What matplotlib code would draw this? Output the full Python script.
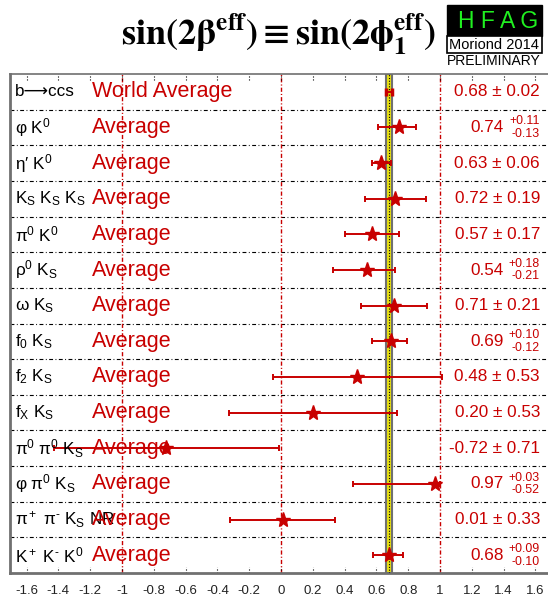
import matplotlib
matplotlib.use('Agg')
import matplotlib.pyplot as plt
import matplotlib.transforms as mtransforms
from matplotlib.patches import Rectangle

plt.rcParams['font.family'] = ['Liberation Sans', 'DejaVu Sans']
plt.rcParams['mathtext.fontset'] = 'custom'
plt.rcParams['mathtext.rm'] = 'Liberation Sans'
plt.rcParams['mathtext.it'] = 'Liberation Sans:italic'
plt.rcParams['mathtext.bf'] = 'Liberation Sans:bold'
plt.rcParams['mathtext.fallback'] = 'stix'

########## Data
modes = ['b\u27f6ccs', 'φ K$^0$', 'η\u2032 K$^0$', r'K$_\mathrm{S}$ K$_\mathrm{S}$ K$_\mathrm{S}$',
         'π$^0$ K$^0$', r'ρ$^0$ K$_\mathrm{S}$', r'ω K$_\mathrm{S}$', r'f$_0$ K$_\mathrm{S}$',
         r'f$_2$ K$_\mathrm{S}$', r'f$_\mathrm{X}$ K$_\mathrm{S}$', r'π$^0$ π$^0$ K$_\mathrm{S}$',
         r'φ π$^0$ K$_\mathrm{S}$', r'π$^+$ π$^{\text{-}}$ K$_\mathrm{S}$ NR', r'K$^+$ K$^{\text{-}}$ K$^0$']
tags = ['World Average'] + ['Average'] * 13
values = [0.68, 0.74, 0.63, 0.72, 0.57, 0.54, 0.71, 0.69, 0.48, 0.20, -0.72, 0.97, 0.01, 0.68]
err_hi = [0.02, 0.11, 0.06, 0.19, 0.17, 0.18, 0.21, 0.10, 0.53, 0.53, 0.71, 0.03, 0.33, 0.09]
err_lo = [0.02, 0.13, 0.06, 0.19, 0.17, 0.21, 0.21, 0.12, 0.53, 0.53, 0.71, 0.52, 0.33, 0.10]
xticks = [-1.6, -1.4, -1.2, -1, -0.8, -0.6, -0.4, -0.2, 0, 0.2, 0.4, 0.6, 0.8, 1, 1.2, 1.4, 1.6]

red = '#c80000'
W, H = 548, 602

def fx(px):
    return px / W

def fy(py):
    return 1 - py / H

fig = plt.figure(figsize=(W / 100, H / 100), dpi=100)
ax = fig.add_axes([fx(10), fy(573), fx(548) - fx(10), fy(74) - fy(573)])
rows = list(range(len(modes)))
ax.set_xlim(-1.704, 1.679)
ax.set_ylim(len(modes) - 0.5, -0.5)

##### separators, reference lines and world average band
ax.hlines([r + 0.5 for r in rows[:-1]], -1.704, 1.679, colors='black', lw=0.8,
          linestyles=[(0, (3.5, 2.2, 0.8, 2.2))], zorder=1)
for xv in [-1, 0, 1]:
    ax.axvline(xv, color=red, lw=1.0, ls=(0, (3, 1.5, 0.8, 1.5)), zorder=1)
ax.axvspan(values[0] - err_lo[0], values[0] + err_hi[0], facecolor='#e8e010',
           edgecolor='#707070', lw=1.5, zorder=2)
ax.axvline(values[0], color='black', lw=0.8, ls=(0, (1, 1.5)), zorder=3)

##### measurements
ax.errorbar(values[:1], rows[:1], xerr=[err_lo[:1], err_hi[:1]], fmt='none',
            ecolor=red, elinewidth=1.5, capsize=3, capthick=2.5, zorder=4)
ax.errorbar(values[1:], rows[1:], xerr=[err_lo[1:], err_hi[1:]], fmt='*',
            color=red, ms=11, elinewidth=1.4, capsize=2.5, capthick=1.4, zorder=4)

##### texts
tr = mtransforms.blended_transform_factory(fig.transFigure, ax.transData)
for r in rows:
    ax.text(fx(15), r, modes[r], transform=tr, fontsize=12.3, va='center', ha='left', zorder=5)
    ax.text(fx(92), r, tags[r], transform=tr, fontsize=15.5, va='center', ha='left',
            color=red, zorder=5)
    if err_hi[r] == err_lo[r]:
        ax.text(fx(540), r, '%.2f ± %.2f' % (values[r], err_hi[r]), transform=tr,
                fontsize=12.3, va='center', ha='right', color=red)
    else:
        ax.text(fx(504), r, '%.2f' % values[r], transform=tr,
                fontsize=12.3, va='center', ha='right', color=red)
        ax.text(fx(540), r - 0.17, '+%.2f' % err_hi[r], transform=tr,
                fontsize=8.9, va='center', ha='right', color=red)
        ax.text(fx(540), r + 0.18, '-%.2f' % err_lo[r], transform=tr,
                fontsize=8.9, va='center', ha='right', color=red)

##### axis styling
ax.set_yticks([])
ax.set_xticks(xticks)
ax.set_xticklabels(['%g' % t for t in xticks], fontsize=9.5, color='#222222')
ax.tick_params(axis='x', length=0, pad=9)
ax.vlines(xticks, 0, 0.012, transform=ax.get_xaxis_transform(), colors='black',
          lw=0.8, linestyles=':')
ax.vlines(xticks, 0.988, 1, transform=ax.get_xaxis_transform(), colors='black',
          lw=0.8, linestyles=':')
ax.spines['right'].set_visible(False)
ax.spines['left'].set_color('#707070')
ax.spines['left'].set_linewidth(2)
ax.spines['top'].set_color('#707070')
ax.spines['top'].set_linewidth(1.2)
ax.spines['bottom'].set_color('#707070')
ax.spines['bottom'].set_linewidth(2)

##### title and HFAG logo
fig.text(fx(278), fy(45), r'$\mathbf{sin(2\beta^{eff}) \equiv sin(2\phi_{1}^{eff})}$',
         math_fontfamily='stix', fontsize=26, ha='center', va='baseline')
fig.add_artist(Rectangle((fx(447), fy(36)), fx(542) - fx(447), fy(5) - fy(36),
                         transform=fig.transFigure, facecolor='black', edgecolor='black'))
fig.add_artist(Rectangle((fx(447), fy(53)), fx(542) - fx(447), fy(36) - fy(53),
                         transform=fig.transFigure, facecolor='white', edgecolor='black', lw=1.2))
fig.text(fx(498), fy(21), 'H F A G', color='#20f020', fontsize=16.5, ha='center', va='center')
fig.text(fx(494), fy(45), 'Moriond 2014', color='black', fontsize=10.5, ha='center', va='center')
fig.text(fx(494), fy(61), 'PRELIMINARY', color='black', fontsize=10, ha='center', va='center')

plt.savefig('out.png', dpi=100)
